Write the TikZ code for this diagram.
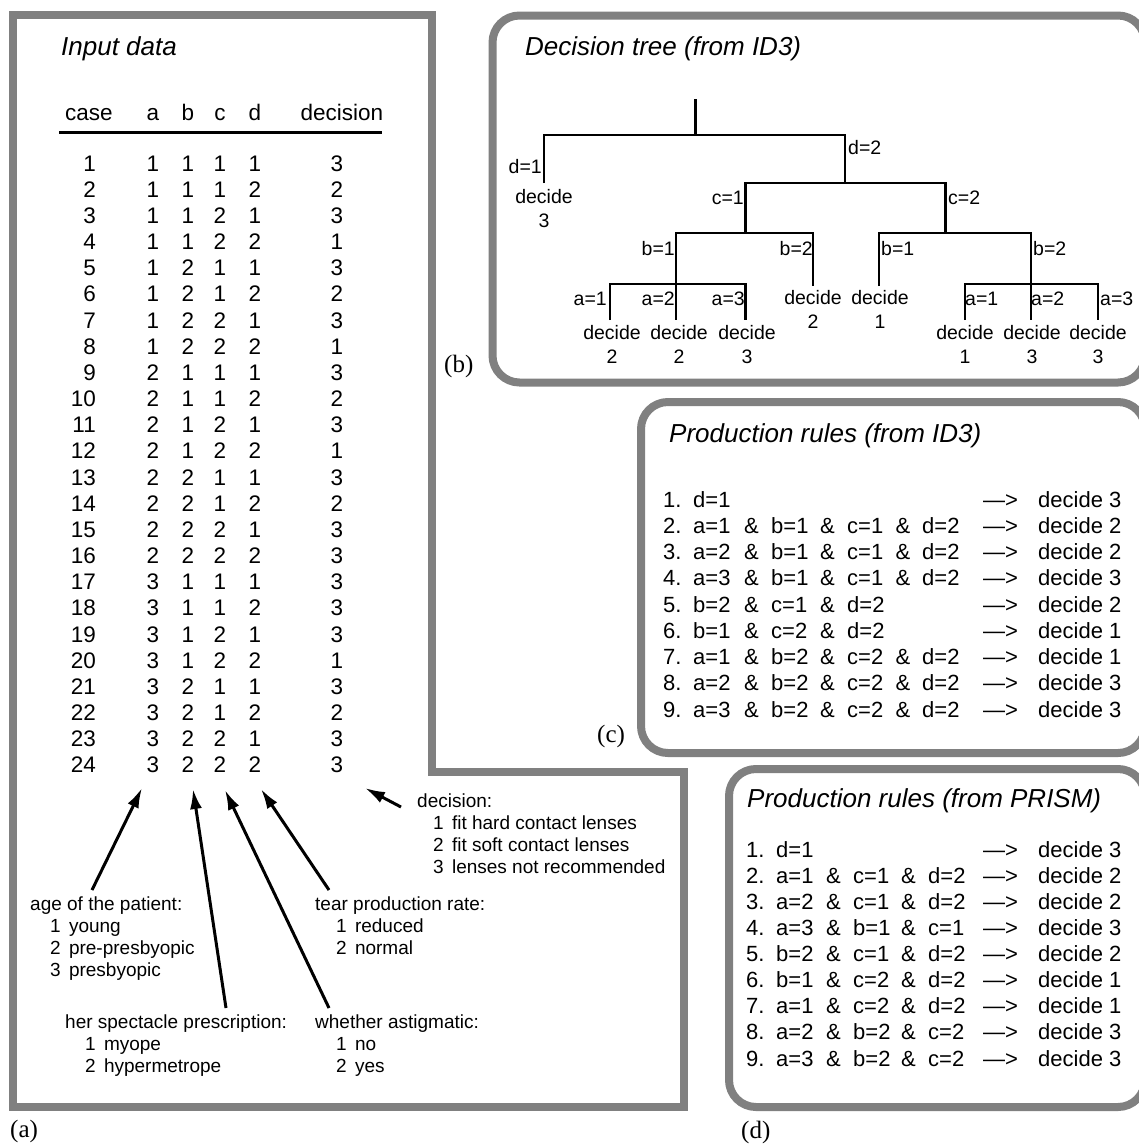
\documentclass[tikz,border=0pt]{standalone}
\usepackage{fontspec}
\setmainfont{Liberation Sans}
\newfontfamily\serifont{Liberation Serif}
\usetikzlibrary{arrows.meta}
\newcommand\ampif[1]{\edef\myamptmp{#1}\ifx\myamptmp\empty\else\&\fi}
\newcommand\rowC[6]{\makebox[30pt][l]{#1}\makebox[51pt][l]{#2}\makebox[27pt][l]{\ampif{#3}}\makebox[49pt][l]{#3}\makebox[27pt][l]{\ampif{#4}}\makebox[48.5pt][l]{#4}\makebox[26.5pt][l]{\ampif{#5}}\makebox[61pt][l]{#5}\makebox[55pt][l]{—>}decide #6}
\newcommand\rowD[5]{\makebox[30pt][l]{#1}\makebox[50pt][l]{#2}\makebox[27pt][l]{\ampif{#3}}\makebox[48pt][l]{#3}\makebox[27pt][l]{\ampif{#4}}\makebox[55pt][l]{#4}\makebox[55pt][l]{—>}decide #5}
\newcommand\twol[2]{\begin{tabular}[t]{@{}c@{}}#1\\#2\end{tabular}}
\tikzset{
  panel/.style={draw=gray, line width=8pt},
  rpanel/.style={panel, rounded corners=27pt},
  ttl/.style={anchor=base west, inner sep=0pt, font=\fontsize{26}{30}\selectfont\itshape},
  tab/.style={anchor=base, inner sep=0pt, font=\fontsize{22.5}{26}\selectfont},
  tl/.style={line width=2.8pt},
  tlab/.style={inner sep=0pt, font=\fontsize{19.5}{24}\selectfont},
  leaf/.style={anchor=base, inner sep=0pt, font=\fontsize{19.5}{24}\selectfont},
  ann/.style={anchor=base west, inner sep=0pt, font=\fontsize{19}{22}\selectfont},
  ptr/.style={line width=3pt, -{Latex[length=20pt,width=12pt]}},
  rule/.style={anchor=base west, inner sep=0pt, font=\fontsize{22}{26}\selectfont},
  plab/.style={anchor=base west, inner sep=0pt, font=\serifont\fontsize{25}{30}\selectfont}
}
\begin{document}
\begin{tikzpicture}[x=1pt,y=-1pt]
\useasboundingbox (0,0) rectangle (1139,1144);
\clip (0,0) rectangle (1139,1144);
\fill[white] (0,0) rectangle (1139,1144);

% ---------- panels ----------
\draw[panel] (13,15) -- (432,15) -- (432,772) -- (684,772) -- (684,1107) -- (13,1107) -- cycle;
\draw[rpanel] (492.5,15.5) rectangle (1145,382.5);
\draw[rpanel] (641,402) rectangle (1145,753);
\draw[rpanel] (729,769) rectangle (1145,1107);

\node[plab] (la) at (10,1137.5) {(a)};
\node[plab] (lb) at (444,372.5) {(b)};
\node[plab] (lc) at (597,742.5) {(c)};
\node[plab] (ld) at (741,1138.5) {(d)};

% ---------- (a) input data ----------
\node[ttl] (tinput) at (61,55) {Input data};
\node[tab] (hcase) at (89,120) {case};
\node[tab] (ha) at (153,120) {a};
\node[tab] (hb) at (188,120) {b};
\node[tab] (hc) at (220,120) {c};
\node[tab] (hd) at (255,120) {d};
\node[tab] (hdec) at (342,120) {decision};
\coordinate (ul1) at (59,132.5);
\coordinate (ul2) at (382,132.5);
\draw[line width=3pt] (ul1) -- (ul2);

\foreach \c/\a/\b/\cc/\d/\e [count=\i] in {
 1/1/1/1/1/3, 2/1/1/1/2/2, 3/1/1/2/1/3, 4/1/1/2/2/1, 5/1/2/1/1/3, 6/1/2/1/2/2,
 7/1/2/2/1/3, 8/1/2/2/2/1, 9/2/1/1/1/3, 10/2/1/1/2/2, 11/2/1/2/1/3, 12/2/1/2/2/1,
 13/2/2/1/1/3, 14/2/2/1/2/2, 15/2/2/2/1/3, 16/2/2/2/2/3, 17/3/1/1/1/3, 18/3/1/1/2/3,
 19/3/1/2/1/3, 20/3/1/2/2/1, 21/3/2/1/1/3, 22/3/2/1/2/2, 23/3/2/2/1/3, 24/3/2/2/2/3}{
  \pgfmathsetmacro\yy{171+(\i-1)*26.17}
  \node[tab, anchor=base east] (case\i) at (96,\yy) {\c};
  \node[tab] (va\i) at (153,\yy) {\a};
  \node[tab] (vb\i) at (188,\yy) {\b};
  \node[tab] (vc\i) at (220,\yy) {\cc};
  \node[tab] (vd\i) at (255,\yy) {\d};
  \node[tab] (ve\i) at (337,\yy) {\e};
}

% annotations
\node[ann] (ndec) at (417,807) {\begin{tabular}[t]{@{}l@{}}decision:\\\hspace*{16pt}1\hspace{3pt} fit hard contact lenses\\\hspace*{16pt}2\hspace{3pt} fit soft contact lenses\\\hspace*{16pt}3\hspace{3pt} lenses not recommended\end{tabular}};
\node[ann] (nage) at (30,910) {\begin{tabular}[t]{@{}l@{}}age of the patient:\\\hspace*{20pt}1\hspace{3pt} young\\\hspace*{20pt}2\hspace{3pt} pre-presbyopic\\\hspace*{20pt}3\hspace{3pt} presbyopic\end{tabular}};
\node[ann] (ntear) at (315,910) {\begin{tabular}[t]{@{}l@{}}tear production rate:\\\hspace*{21pt}1\hspace{3pt} reduced\\\hspace*{21pt}2\hspace{3pt} normal\end{tabular}};
\node[ann] (nspec) at (65,1028) {\begin{tabular}[t]{@{}l@{}}her spectacle prescription:\\\hspace*{20pt}1\hspace{3pt} myope\\\hspace*{20pt}2\hspace{3pt} hypermetrope\end{tabular}};
\node[ann] (nast) at (315,1028) {\begin{tabular}[t]{@{}l@{}}whether astigmatic:\\\hspace*{21pt}1\hspace{3pt} no\\\hspace*{21pt}2\hspace{3pt} yes\end{tabular}};

\coordinate (hA) at (142,788);  \coordinate (tA) at (92,890);
\coordinate (hB) at (193,789);  \coordinate (tB) at (226,1008);
\coordinate (hC) at (225,790);  \coordinate (tC) at (329,1008);
\coordinate (hD) at (261,789);  \coordinate (tD) at (329,890);
\coordinate (hE) at (365,788);  \coordinate (tE) at (401,807);
\draw[ptr] (tA) -- (hA);
\draw[ptr] (tB) -- (hB);
\draw[ptr] (tC) -- (hC);
\draw[ptr] (tD) -- (hD);
\draw[ptr] (tE) -- (hE);

% ---------- (b) decision tree ----------
\node[ttl] (ttree) at (525,55) {Decision tree (from ID3)};
\coordinate (t0) at (695.5,99);
\coordinate (t1) at (695.5,135);
\coordinate (d1e) at (544,183);
\coordinate (d2j) at (845,183);
\coordinate (c1j) at (745.5,233);
\coordinate (c2j) at (945.5,233);
\coordinate (b1Lj) at (676,284);
\coordinate (b2Le) at (813,286);
\coordinate (b1Re) at (879,286);
\coordinate (b2Rj) at (1031,284);
\coordinate (a1Le) at (610,320);
\coordinate (a2Le) at (676,320);
\coordinate (a3Le) at (745.5,320);
\coordinate (a1Re) at (965,320);
\coordinate (a2Re) at (1031,320);
\coordinate (a3Re) at (1098,320);
\draw[tl] (t0) -- (t1);
\draw[tl] (d1e) |- (t1) -| (d2j);
\draw[tl] (c1j) |- (d2j) -| (c2j);
\draw[tl] (b1Lj) |- (c1j) -| (b2Le);
\draw[tl] (b1Re) |- (c2j) -| (b2Rj);
\draw[tl] (a1Le) |- (b1Lj) -| (a3Le);
\draw[tl] (b1Lj) -- (a2Le);
\draw[tl] (a1Re) |- (b2Rj) -| (a3Re);
\draw[tl] (b2Rj) -- (a2Re);

\node[tlab, anchor=base east] (ld1) at (542,173) {d=1};
\node[tlab, anchor=base west] (ld2) at (848,154) {d=2};
\node[tlab, anchor=base east] (lc1) at (744,204) {c=1};
\node[tlab, anchor=base west] (lc2) at (948,204) {c=2};
\node[tlab, anchor=base east] (lb1L) at (675,255) {b=1};
\node[tlab, anchor=base east] (lb2L) at (813,255) {b=2};
\node[tlab, anchor=base west] (lb1R) at (881,255) {b=1};
\node[tlab, anchor=base west] (lb2R) at (1033,255) {b=2};
\node[tlab, anchor=base east] (la1L) at (607,305) {a=1};
\node[tlab, anchor=base east] (la2L) at (675,305) {a=2};
\node[tlab, anchor=base east] (la3L) at (745,305) {a=3};
\node[tlab, anchor=base west] (la1R) at (965,305) {a=1};
\node[tlab, anchor=base west] (la2R) at (1031,305) {a=2};
\node[tlab, anchor=base west] (la3R) at (1100,305) {a=3};

\node[leaf] (f1) at (544,203) {\twol{decide}{3}};
\node[leaf] (f2) at (813,304) {\twol{decide}{2}};
\node[leaf] (f3) at (880,304) {\twol{decide}{1}};
\node[leaf] (f4) at (612,339) {\twol{decide}{2}};
\node[leaf] (f5) at (679,339) {\twol{decide}{2}};
\node[leaf] (f6) at (747,339) {\twol{decide}{3}};
\node[leaf] (f7) at (965,339) {\twol{decide}{1}};
\node[leaf] (f8) at (1032,339) {\twol{decide}{3}};
\node[leaf] (f9) at (1098,339) {\twol{decide}{3}};

% ---------- (c) production rules ID3 ----------
\node[ttl] (tid3) at (669,442) {Production rules (from ID3)};
\foreach \n/\p/\q/\r/\s/\d [count=\i] in {
 1./d=1////3, 2./a=1/b=1/c=1/d=2/2, 3./a=2/b=1/c=1/d=2/2, 4./a=3/b=1/c=1/d=2/3,
 5./b=2/c=1/d=2//2, 6./b=1/c=2/d=2//1, 7./a=1/b=2/c=2/d=2/1, 8./a=2/b=2/c=2/d=2/3,
 9./a=3/b=2/c=2/d=2/3}{
  \pgfmathsetmacro\yy{507+(\i-1)*26.25}
  \node[rule] (rc\i) at (663,\yy) {\rowC{\n}{\p}{\q}{\r}{\s}{\d}};
}

% ---------- (d) production rules PRISM ----------
\node[ttl] (tprism) at (747,807) {Production rules (from PRISM)};
\foreach \n/\p/\q/\r/\d [count=\i] in {
 1./d=1///3, 2./a=1/c=1/d=2/2, 3./a=2/c=1/d=2/2, 4./a=3/b=1/c=1/3,
 5./b=2/c=1/d=2/2, 6./b=1/c=2/d=2/1, 7./a=1/c=2/d=2/1, 8./a=2/b=2/c=2/3,
 9./a=3/b=2/c=2/3}{
  \pgfmathsetmacro\yy{857+(\i-1)*26.125}
  \node[rule] (rd\i) at (746,\yy) {\rowD{\n}{\p}{\q}{\r}{\d}};
}
\end{tikzpicture}
\end{document}
